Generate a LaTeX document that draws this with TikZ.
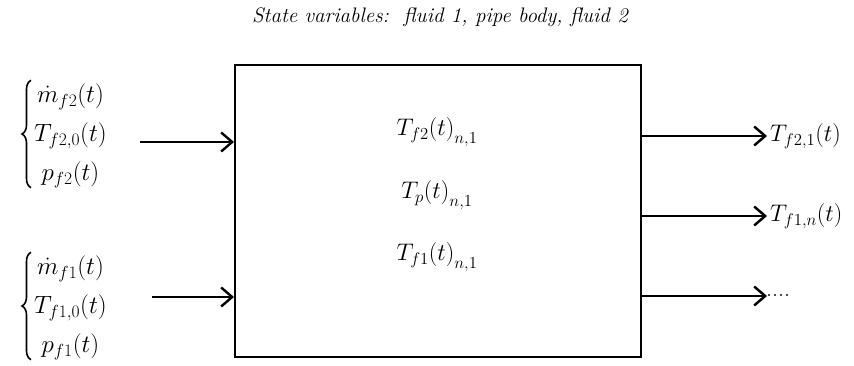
\RequirePackage{fix-cm}
\documentclass[tikz,border=0pt]{standalone}
\usetikzlibrary{arrows.meta,decorations.pathreplacing}
\newcommand{\lowsub}[1]{\raisebox{-4pt}{$\scriptstyle #1$}}
\begin{document}
\begin{tikzpicture}[x=1pt,y=-1pt,
  mfont/.style={font=\fontsize{24}{29}\selectfont},
  arr/.style={line width=2.4pt,-{Straight Barb[length=11pt,width=19pt,line width=2.4pt]}},
  lbl/.style={mfont,inner sep=0pt},
  grp/.style={font=\fontsize{25}{30}\selectfont,inner xsep=0pt,inner ysep=-5pt,anchor=west},
  brc/.style={line width=1.6pt,decorate,decoration={brace,amplitude=9pt,aspect=0.5}}]
\useasboundingbox (0,0) rectangle (854,366);
\node[draw,line width=2.4pt,minimum width=406pt,minimum height=292pt,anchor=north west,inner sep=0pt] (box) at (234,64) {};
\node[font=\fontsize{21}{25}\selectfont\itshape] (title) at (440,17) {State variables:\ \ fluid 1, pipe body, fluid 2};
% center
\node[lbl] (c1) at (437,132) {$T_{f2}(t)_{\lowsub{n,1}}$};
\node[lbl] (c2) at (437,195) {$T_{p}(t)_{\lowsub{n,1}}$};
\node[lbl] (c3) at (437,257) {$T_{f1}(t)_{\lowsub{n,1}}$};
% inputs
\renewcommand{\arraystretch}{1.3}
\node[grp] (in2) at (34,134) {$\begin{array}{@{}c@{}}\dot m_{f2}(t)\\ T_{f2,0}(t)\\ p_{f2}(t)\end{array}$};
\node[grp] (in1) at (34,306) {$\begin{array}{@{}c@{}}\dot m_{f1}(t)\\ T_{f1,0}(t)\\ p_{f1}(t)\end{array}$};
\draw[brc] ([xshift=-3pt]in2.south west) -- ([xshift=-3pt]in2.north west);
\draw[brc] ([xshift=-3pt]in1.south west) -- ([xshift=-3pt]in1.north west);
\coordinate (s2) at (140,142);
\coordinate (s1) at (152,297);
\draw[arr] (s2) -- (s2 -| box.west);
\draw[arr] (s1) -- (s1 -| box.west);
% outputs
\node[lbl,anchor=west] (o1) at (770,136) {$T_{f2,1}(t)$};
\node[lbl,anchor=west] (o2) at (770,216) {$T_{f1,n}(t)$};
\node[lbl,anchor=west] (o3) at (766,296) {....};
\draw[arr] (o1 -| box.east) -- ([xshift=-3pt]o1.west);
\draw[arr] (o2 -| box.east) -- ([xshift=-3pt]o2.west);
\draw[arr] (o3 -| box.east) -- ([xshift=1pt]o3.west);
\end{tikzpicture}
\end{document}
